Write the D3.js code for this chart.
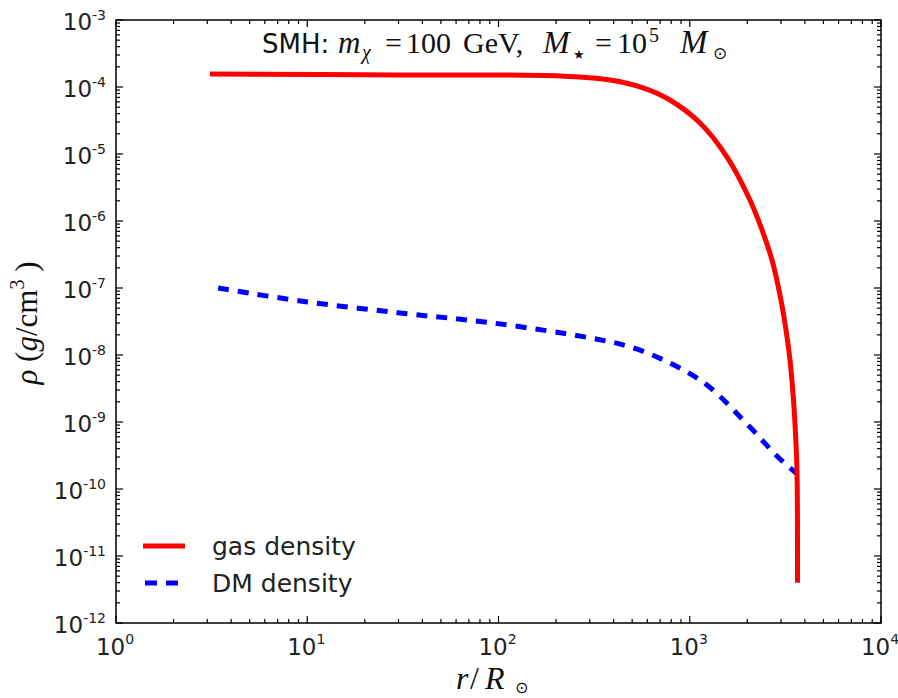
<!DOCTYPE html>
<html>
<head>
<meta charset="utf-8">
<script src="https://cdn.jsdelivr.net/npm/d3@7/dist/d3.min.js"></script>
<style>
  body { margin: 0; background: #fff; }
  svg { display: block; }
</style>
</head>
<body>
<svg id="chart" width="898" height="698"></svg>
<script>
// Radius in solar radii and density in g/cm^3
const gasR   = [3.1, 30.5, 210, 383, 570, 788, 1132, 1567, 2065, 2387, 2692, 2964, 3187, 3344, 3487, 3572, 3638, 3660];
const gasRho = [1.56e-4, 1.51e-4, 1.46e-4, 1.27e-4, 9.7e-5, 6.4e-5, 2.9e-5, 9.0e-6, 2.06e-6, 7.35e-7, 2.62e-7, 7.87e-8, 2.36e-8, 8.41e-9, 2.13e-9, 6.85e-10, 1.73e-10, 4.0e-12];

const dmR   = [3.42, 9.2, 30.5, 93.6, 301, 488, 788, 1230, 2065, 2890, 3620];
const dmRho = [1.0e-7, 6.4e-8, 4.24e-8, 3.0e-8, 1.8e-8, 1.32e-8, 7.6e-9, 3.56e-9, 8.4e-10, 3.0e-10, 1.7e-10];

const xDecades = [0, 1, 2, 3, 4];
const yDecades = [-3, -4, -5, -6, -7, -8, -9, -10, -11, -12];

const legendLabels = ["gas density", "DM density"];

const svg = d3.select("#chart");
const pLeft = 116, pTop = 20, pRight = 881, pBottom = 623;

const x = d3.scaleLog().domain([1, 1e4]).range([pLeft, pRight]);
const y = d3.scaleLog().domain([1e-12, 1e-3]).range([pBottom, pTop]);

// minor tick positions (2..9 in each decade)
const xMinor = [];
for (let d = 0; d < 4; d++) for (let k = 2; k <= 9; k++) xMinor.push(k * Math.pow(10, d));
const yMinor = [];
for (let d = -12; d < -3; d++) for (let k = 2; k <= 9; k++) yMinor.push(k * Math.pow(10, d));

const majLen = 7, minLen = 4;
const ticks = svg.append("g").attr("stroke", "#000").attr("stroke-width", 1.2);

function xTicks(vals, len) {
  vals.forEach(v => {
    const px = x(v);
    ticks.append("line").attr("x1", px).attr("x2", px).attr("y1", pBottom).attr("y2", pBottom - len);
    ticks.append("line").attr("x1", px).attr("x2", px).attr("y1", pTop).attr("y2", pTop + len);
  });
}
function yTicks(vals, len) {
  vals.forEach(v => {
    const py = y(v);
    ticks.append("line").attr("y1", py).attr("y2", py).attr("x1", pLeft).attr("x2", pLeft + len);
    ticks.append("line").attr("y1", py).attr("y2", py).attr("x1", pRight).attr("x2", pRight - len);
  });
}
xTicks(xDecades.map(e => Math.pow(10, e)), majLen);
xTicks(xMinor, minLen);
yTicks(yDecades.map(e => Math.pow(10, e)), majLen);
yTicks(yMinor, minLen);

// tick labels of the form 10^n
const labelFont = "DejaVu Sans, sans-serif";
xDecades.forEach(e => {
  const t = svg.append("text")
    .attr("x", x(Math.pow(10, e)) - 1).attr("y", pBottom + 32)
    .attr("text-anchor", "middle")
    .attr("font-family", labelFont).attr("font-size", 23).attr("fill", "#222");
  t.append("tspan").text("10");
  t.append("tspan").attr("dy", -11).attr("font-size", 14).text(String(e));
});
yDecades.forEach(e => {
  const t = svg.append("text")
    .attr("x", 106).attr("y", y(Math.pow(10, e)) + 10)
    .attr("text-anchor", "end")
    .attr("font-family", labelFont).attr("font-size", 23).attr("fill", "#222");
  t.append("tspan").text("10");
  t.append("tspan").attr("dy", -10).attr("font-size", 14).text(String(e));
});

// curves
const clipId = "plotclip";
svg.append("clipPath").attr("id", clipId).append("rect")
  .attr("x", pLeft).attr("y", pTop).attr("width", pRight - pLeft).attr("height", pBottom - pTop);

const lineFn = d3.line().x(d => x(d[0])).y(d => y(d[1])).curve(d3.curveCatmullRom.alpha(0.5));

svg.append("path")
  .datum(dmR.map((r, i) => [r, dmRho[i]]))
  .attr("d", lineFn)
  .attr("fill", "none").attr("stroke", "#0000ff").attr("stroke-width", 5)
  .attr("stroke-dasharray", "11,9")
  .attr("clip-path", `url(#${clipId})`);

svg.append("path")
  .datum(gasR.map((r, i) => [r, gasRho[i]]))
  .attr("d", lineFn)
  .attr("fill", "none").attr("stroke", "#ff0000").attr("stroke-width", 5)
  .attr("clip-path", `url(#${clipId})`);

// axes frame
svg.append("rect")
  .attr("x", pLeft).attr("y", pTop).attr("width", pRight - pLeft).attr("height", pBottom - pTop)
  .attr("fill", "none").attr("stroke", "#000").attr("stroke-width", 1.5);

// legend
const leg = svg.append("g");
leg.append("line").attr("x1", 143).attr("x2", 185).attr("y1", 546).attr("y2", 546)
  .attr("stroke", "#ff0000").attr("stroke-width", 5);
leg.append("line").attr("x1", 145).attr("x2", 185).attr("y1", 583).attr("y2", 583)
  .attr("stroke", "#0000ff").attr("stroke-width", 5).attr("stroke-dasharray", "12,9");
legendLabels.forEach((s, i) => {
  leg.append("text").attr("x", 212).attr("y", 555 + i * 37)
    .attr("font-family", labelFont).attr("font-size", 25).attr("fill", "#222").text(s);
});

// title: sans-serif prefix followed by math-style serif pieces
const serif = "Liberation Serif, Times New Roman, serif";
const title = svg.append("g").attr("fill", "#111");
const titleParts = [
  { t: "SMH:", x: 262, f: labelFont, s: 26, dy: 0 },
  { t: "m",    x: 338, f: serif, s: 31, it: true, dy: 0 },
  { t: "χ",    x: 362, f: serif, s: 20, it: true, dy: 6 },
  { t: "=",    x: 385, f: serif, s: 30, dy: 0 },
  { t: "100",  x: 406, f: serif, s: 30, dy: 0 },
  { t: "GeV,", x: 463, f: serif, s: 30, dy: 0 },
  { t: "M",    x: 543, f: serif, s: 32, it: true, dy: 0 },
  { t: "★",    x: 573, f: "DejaVu Sans, sans-serif", s: 13, dy: 6 },
  { t: "=",    x: 595, f: serif, s: 30, dy: 0 },
  { t: "10",   x: 617, f: serif, s: 30, dy: 0 },
  { t: "5",    x: 649, f: serif, s: 20, dy: -11 },
  { t: "M",    x: 680, f: serif, s: 33, it: true, dy: 0 },
  { t: "⊙",    x: 713, f: "DejaVu Sans, sans-serif", s: 17, dy: 6 }
];
titleParts.forEach(p => {
  title.append("text").attr("x", p.x).attr("y", 53 + p.dy)
    .attr("font-family", p.f).attr("font-size", p.s)
    .attr("font-style", p.it ? "italic" : "normal").text(p.t);
});

// x axis label r/R_sun
const xlParts = [
  { t: "r", x: 456, s: 32, it: true, dy: 0 },
  { t: "/", x: 470, s: 32, it: false, dy: 0 },
  { t: "R", x: 485, s: 32, it: true, dy: 0 },
  { t: "⊙", x: 515, s: 16, it: false, dy: 4, f: "DejaVu Sans, sans-serif" }
];
xlParts.forEach(p => {
  svg.append("text").attr("x", p.x).attr("y", 689 + p.dy)
    .attr("font-family", p.f || serif).attr("font-size", p.s).attr("fill", "#111")
    .attr("font-style", p.it ? "italic" : "normal").text(p.t);
});

// y axis label rho (g/cm^3)
const yl = svg.append("text").attr("transform", "translate(37,323) rotate(-90)")
  .attr("text-anchor", "middle")
  .attr("font-family", serif).attr("font-size", 31).attr("fill", "#111");
yl.append("tspan").attr("font-style", "italic").text("ρ");
yl.append("tspan").text("  (");
yl.append("tspan").attr("font-style", "italic").text("g");
yl.append("tspan").text("/cm");
yl.append("tspan").attr("font-size", 20).attr("dy", -13).text("3");
yl.append("tspan").attr("dy", 13).text(" )");
</script>
</body>
</html>
